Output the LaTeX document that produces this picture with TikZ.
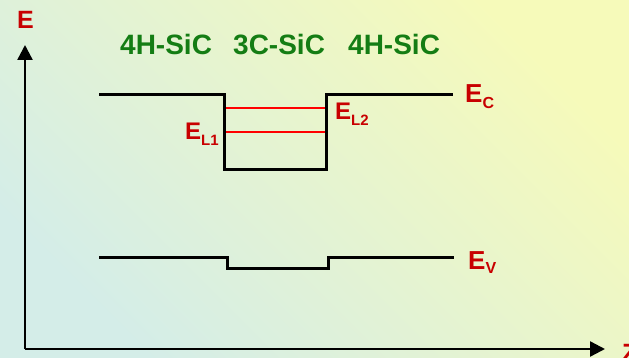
\documentclass[tikz,border=0pt]{standalone}
\usepackage{fontspec}
\setmainfont{Liberation Sans}
\usetikzlibrary{arrows.meta}
\definecolor{bgA}{RGB}{212,237,232}
\definecolor{bgB}{RGB}{246,250,186}
\definecolor{lblred}{RGB}{200,0,0}
\definecolor{lblgreen}{RGB}{20,125,20}
\begin{document}
\begin{tikzpicture}[x=1pt,y=-1pt,
  band/.style={line width=3pt,black,line join=miter},
  axisline/.style={line width=2.4pt,black,-{Triangle[width=15pt,length=15pt]}},
  level/.style={line width=2pt,red},
  lab/.style={inner sep=0pt,anchor=base west,text=lblred,font=\bfseries},
  mat/.style={inner sep=0pt,anchor=base west,text=lblgreen,font=\bfseries\fontsize{28}{28}\selectfont}]
\useasboundingbox (0,0) rectangle (629,358);
\shade[top color=bgA,bottom color=bgB,shading angle=135] (0,0) rectangle (629,358);
% axes
\coordinate (O) at (25,349);
\coordinate (Ytip) at (25,45);
\coordinate (Xtip) at (605,349);
\draw[axisline] (O) -- (Ytip);
\draw[axisline] (O) -- (Xtip);
% conduction band
\coordinate (c1) at (99,95);
\coordinate (c2) at (224.5,95);
\coordinate (c3) at (224.5,169.5);
\coordinate (c4) at (326,169.5);
\coordinate (c5) at (326,95);
\coordinate (c6) at (453,95);
\draw[band] (c1) -- (c2) -- (c3) -- (c4) -- (c5) -- (c6);
% quantum levels
\coordinate (l1a) at (226,108);
\coordinate (l1b) at (324.5,108);
\coordinate (l2a) at (226,132);
\coordinate (l2b) at (324.5,132);
\draw[level] (l1a) -- (l1b);
\draw[level] (l2a) -- (l2b);
% valence band
\coordinate (v1) at (99,257.5);
\coordinate (v2) at (227.5,257.5);
\coordinate (v3) at (227.5,268);
\coordinate (v4) at (328.5,268);
\coordinate (v5) at (328.5,257.5);
\coordinate (v6) at (454,257.5);
\draw[band] (v1) -- (v2) -- (v3) -- (v4) -- (v5) -- (v6);
% labels
\node[lab] (E) at (17,29) {\fontsize{25}{25}\selectfont E};
\node[lab] (Z) at (622,361) {\fontsize{25}{25}\selectfont Z};
\node[mat] (m1) at (120,55) {4H-SiC};
\node[mat] (m2) at (233,55) {3C-SiC};
\node[mat] (m3) at (348,55) {4H-SiC};
\node[lab] (Ec) at (465,103) {\fontsize{26}{26}\selectfont E\raisebox{-6pt}{\fontsize{16}{16}\selectfont C}};
\node[lab] (Ev) at (468,269) {\fontsize{26}{26}\selectfont E\raisebox{-5pt}{\fontsize{16}{16}\selectfont V}};
\node[lab] (EL1) at (185,139.5) {\fontsize{24}{24}\selectfont E\raisebox{-6.5pt}{\fontsize{15}{15}\selectfont L1}};
\node[lab] (EL2) at (335,120) {\fontsize{24}{24}\selectfont E\raisebox{-5.5pt}{\fontsize{15}{15}\selectfont L2}};
\end{tikzpicture}
\end{document}
